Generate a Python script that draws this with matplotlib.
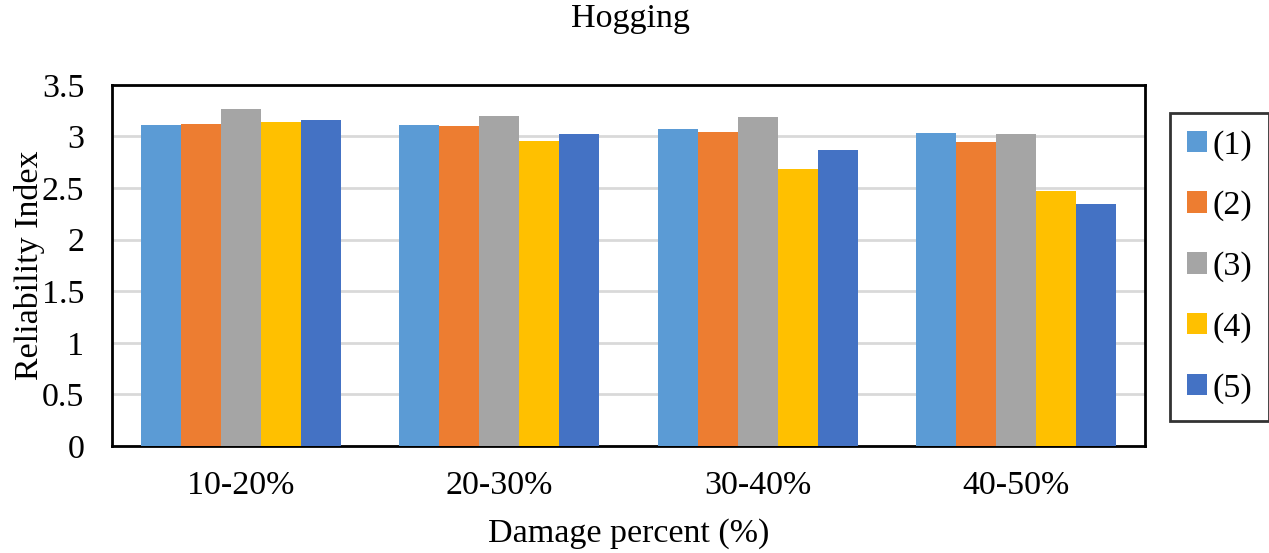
import matplotlib
matplotlib.use("Agg")
import matplotlib.pyplot as plt
import numpy as np
from matplotlib.patches import Patch

plt.rcParams["font.family"] = ["Liberation Serif", "DejaVu Serif"]

categories = ["10-20%", "20-30%", "30-40%", "40-50%"]
series_names = ["(1)", "(2)", "(3)", "(4)", "(5)"]
s1 = [3.11, 3.11, 3.07, 3.03]
s2 = [3.12, 3.10, 3.04, 2.95]
s3 = [3.27, 3.20, 3.19, 3.02]
s4 = [3.14, 2.96, 2.68, 2.47]
s5 = [3.16, 3.02, 2.87, 2.35]
series = [s1, s2, s3, s4, s5]
colors = ["#5b9bd5", "#ed7d31", "#a5a5a5", "#ffc000", "#4472c4"]

fs = 24.5

fig = plt.figure(figsize=(12.69, 5.53), dpi=100)
ax = fig.add_axes([0.0883, 0.1935, 0.814, 0.653])

x = np.arange(len(categories))
w = 0.155
for i, (vals, c) in enumerate(zip(series, colors)):
    ax.bar(x + (i - 2) * w, vals, width=w, color=c, zorder=3)

ax.set_xlim(-0.5, 3.5)
ax.set_ylim(0, 3.5)
ax.set_yticks(np.arange(0, 3.51, 0.5))
ax.set_yticklabels(["0", "0.5", "1", "1.5", "2", "2.5", "3", "3.5"])
ax.set_xticks(x)
ax.set_xticklabels(categories)
ax.tick_params(length=0, labelsize=fs)
ax.tick_params(axis="y", pad=20)
ax.tick_params(axis="x", pad=18)
ax.yaxis.grid(True, color="#d9d9d9", linewidth=2, zorder=0)
for sp in ax.spines.values():
    sp.set_linewidth(2)
    sp.set_color("black")

ax.set_xlabel("Damage percent (%)", fontsize=fs, labelpad=12)
ax.set_ylabel("Reliability Index", fontsize=fs, labelpad=-2)
fig.text(0.497, 0.966, "Hogging", ha="center", va="center", fontsize=fs)

handles = [Patch(facecolor=c, edgecolor="none") for c in colors]
leg = fig.legend(handles, series_names, loc="upper left",
                 bbox_to_anchor=(0.922, 0.796), borderaxespad=0,
                 fontsize=fs, frameon=True, fancybox=False,
                 edgecolor="black", handlelength=0.6, handleheight=0.6,
                 handletextpad=0.15, labelspacing=0.88, borderpad=0.5)
leg.get_frame().set_linewidth(2)

fig.savefig("out.png", dpi=100)
